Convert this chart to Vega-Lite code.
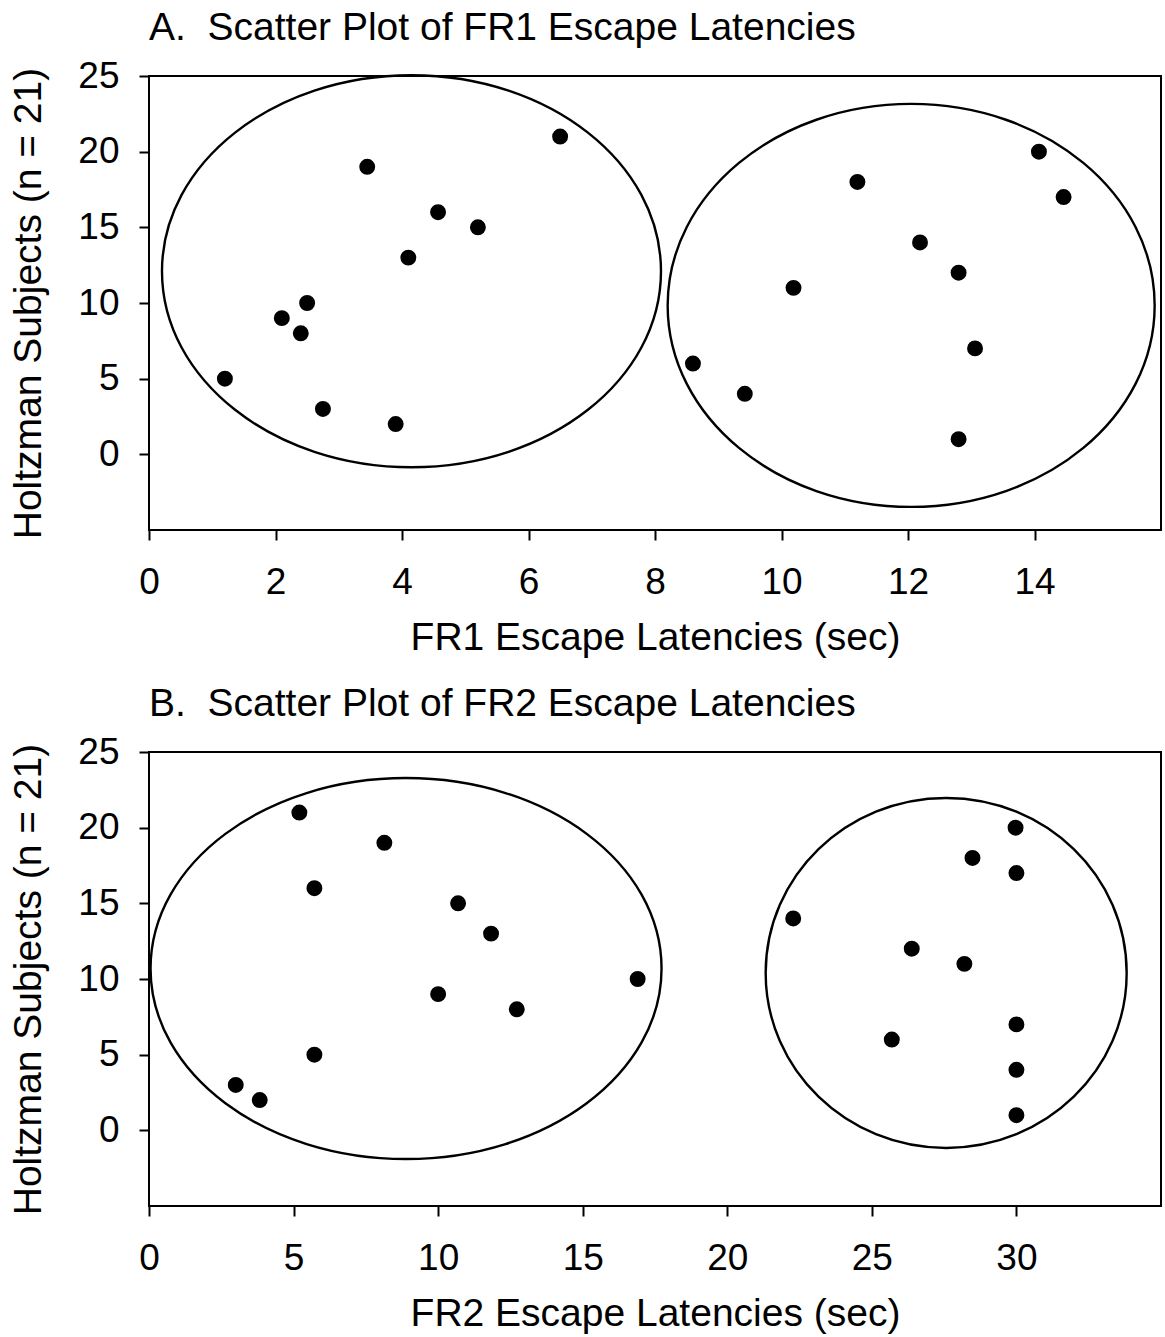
{
  "$schema": "https://vega.github.io/schema/vega-lite/v6.json",
  "background": "white",
  "padding": {"left": 8, "top": 8, "right": 4, "bottom": 4},
  "bounds": "flush",
  "spacing": 222,
  "config": {
    "font": "Liberation Sans",
    "view": {"stroke": "black", "strokeWidth": 2},
    "axis": {
      "domain": false,
      "grid": false,
      "ticks": true,
      "tickColor": "black",
      "tickWidth": 2,
      "tickSize": 10,
      "labelFont": "Liberation Sans",
      "labelFontSize": 37,
      "labelColor": "black",
      "labelFlush": false,
      "labelOverlap": false,
      "titleFont": "Liberation Sans",
      "titleFontSize": 39,
      "titleFontWeight": "normal",
      "titleColor": "black"
    },
    "axisX": {"labelPadding": 24, "titlePadding": 18},
    "axisY": {"labelPadding": 20, "titlePadding": 29},
    "title": {"font": "Liberation Sans", "fontSize": 39, "fontWeight": "normal", "color": "black", "anchor": "start", "frame": "group", "baseline": "alphabetic", "offset": 9}
  },
  "datasets": {
    "fr1": [
      {"latency": 1.2, "subject": 5},
      {"latency": 2.1, "subject": 9},
      {"latency": 2.5, "subject": 10},
      {"latency": 2.4, "subject": 8},
      {"latency": 2.75, "subject": 3},
      {"latency": 3.45, "subject": 19},
      {"latency": 3.9, "subject": 2},
      {"latency": 4.1, "subject": 13},
      {"latency": 4.57, "subject": 16},
      {"latency": 5.2, "subject": 15},
      {"latency": 6.5, "subject": 21},
      {"latency": 8.6, "subject": 6},
      {"latency": 9.42, "subject": 4},
      {"latency": 10.19, "subject": 11},
      {"latency": 11.2, "subject": 18},
      {"latency": 12.19, "subject": 14},
      {"latency": 12.8, "subject": 12},
      {"latency": 13.06, "subject": 7},
      {"latency": 12.8, "subject": 1},
      {"latency": 14.07, "subject": 20},
      {"latency": 14.46, "subject": 17}
    ],
    "fr2": [
      {"latency": 5.2, "subject": 21},
      {"latency": 8.14, "subject": 19},
      {"latency": 5.72, "subject": 16},
      {"latency": 10.69, "subject": 15},
      {"latency": 11.83, "subject": 13},
      {"latency": 16.9, "subject": 10},
      {"latency": 10.0, "subject": 9},
      {"latency": 12.72, "subject": 8},
      {"latency": 5.72, "subject": 5},
      {"latency": 3.0, "subject": 3},
      {"latency": 3.83, "subject": 2},
      {"latency": 22.28, "subject": 14},
      {"latency": 26.38, "subject": 12},
      {"latency": 28.2, "subject": 11},
      {"latency": 25.69, "subject": 6},
      {"latency": 28.48, "subject": 18},
      {"latency": 29.97, "subject": 20},
      {"latency": 30.0, "subject": 17},
      {"latency": 30.0, "subject": 7},
      {"latency": 30.0, "subject": 4},
      {"latency": 30.0, "subject": 1}
    ],
    "clustersA": [
      {"latency": 4.15, "subject": 12.1, "cluster": "A1"},
      {"latency": 12.05, "subject": 9.84, "cluster": "A2"}
    ],
    "clustersB": [
      {"latency": 8.89, "subject": 10.69, "cluster": "B1"},
      {"latency": 27.57, "subject": 10.4, "cluster": "B2"}
    ]
  },
  "vconcat": [
    {
      "width": 1012,
      "height": 454,
      "title": {"text": "A.\u00a0 Scatter Plot of FR1 Escape Latencies"},
      "encoding": {
        "x": {"field": "latency", "type": "quantitative", "scale": {"domain": [0, 16], "nice": false, "zero": false}, "axis": {"values": [0, 2, 4, 6, 8, 10, 12, 14], "format": "d", "title": "FR1 Escape Latencies (sec)"}},
        "y": {"field": "subject", "type": "quantitative", "scale": {"domain": [-5, 25], "nice": false, "zero": false}, "axis": {"values": [0, 5, 10, 15, 20, 25], "format": "d", "title": "Holtzman Subjects (n = 21)"}}
      },
      "layer": [
        {
          "data": {"name": "clustersA"},
          "mark": {"type": "point", "filled": false, "stroke": "black", "strokeWidth": 2.4, "size": 4, "opacity": 1},
          "encoding": {
            "shape": {"field": "cluster", "type": "nominal", "legend": null, "scale": {"domain": ["A1", "A2"], "range": [
              "M -249.5 0 A 249.5 196 0 1 0 249.5 0 A 249.5 196 0 1 0 -249.5 0 Z",
              "M -243.5 0 A 243.5 201.5 0 1 0 243.5 0 A 243.5 201.5 0 1 0 -243.5 0 Z"
            ]}}
          }
        },
        {
          "data": {"name": "fr1"},
          "mark": {"type": "circle", "color": "black", "size": 254, "opacity": 1}
        }
      ]
    },
    {
      "width": 1012,
      "height": 454,
      "title": {"text": "B.\u00a0 Scatter Plot of FR2 Escape Latencies"},
      "encoding": {
        "x": {"field": "latency", "type": "quantitative", "scale": {"domain": [0, 35], "nice": false, "zero": false}, "axis": {"values": [0, 5, 10, 15, 20, 25, 30], "format": "d", "title": "FR2 Escape Latencies (sec)"}},
        "y": {"field": "subject", "type": "quantitative", "scale": {"domain": [-5, 25], "nice": false, "zero": false}, "axis": {"values": [0, 5, 10, 15, 20, 25], "format": "d", "title": "Holtzman Subjects (n = 21)"}}
      },
      "layer": [
        {
          "data": {"name": "clustersB"},
          "mark": {"type": "point", "filled": false, "stroke": "black", "strokeWidth": 2.4, "size": 4, "opacity": 1},
          "encoding": {
            "shape": {"field": "cluster", "type": "nominal", "legend": null, "scale": {"domain": ["B1", "B2"], "range": [
              "M -255.5 0 A 255.5 190.5 0 1 0 255.5 0 A 255.5 190.5 0 1 0 -255.5 0 Z",
              "M -180.5 0 A 180.5 175 0 1 0 180.5 0 A 180.5 175 0 1 0 -180.5 0 Z"
            ]}}
          }
        },
        {
          "data": {"name": "fr2"},
          "mark": {"type": "circle", "color": "black", "size": 254, "opacity": 1}
        }
      ]
    }
  ],
  "resolve": {"scale": {"x": "independent", "y": "independent", "shape": "independent"}}
}
